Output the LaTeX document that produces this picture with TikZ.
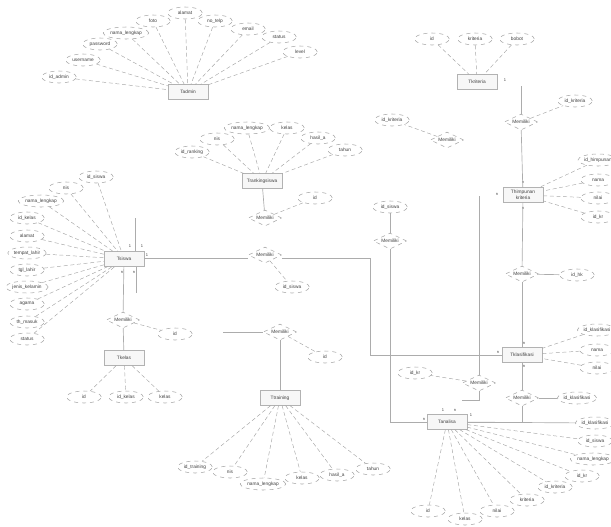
\documentclass[tikz,border=0pt]{standalone}
\usepackage{fontspec}
\setmainfont{Liberation Sans}
\usetikzlibrary{shapes.geometric}
\newcommand{\erfont}{\fontsize{3.6}{4.2}\selectfont}

\begin{document}
\begin{tikzpicture}[x=0.75pt, y=-0.75pt,
    every node/.style={font=\erfont, text=black!75},
    entity/.style={draw=gray!60, fill=gray!6, minimum width=30pt, minimum height=11pt, inner sep=1pt, align=center},
    attr/.style={ellipse, draw=gray!70, dashed, fill=white, minimum width=26pt, minimum height=9pt, inner sep=0.3pt},
    relship/.style={diamond, draw=gray!70, dashed, fill=white, aspect=2.1, minimum width=25pt, minimum height=12pt, inner sep=0.3pt},
    card/.style={font=\fontsize{3}{3.5}\selectfont, inner sep=0pt},
    link/.style={draw=gray!65, line width=0.5pt},
    attrlink/.style={draw=gray!70, densely dashed, line width=0.35pt}]
    \useasboundingbox (0,0) rectangle (611,526);

    % Tadmin
    \node[entity] (tadmin) at (188,92) {Tadmin};
    \node[attr] (idadmin) at (59,77) {id\_admin};
    \node[attr] (username) at (83,60) {username};
    \node[attr] (password) at (100,44) {password};
    \node[attr] (namaadmin) at (126,33) {nama\_lengkap};
    \node[attr] (foto) at (153,21) {foto};
    \node[attr] (alamatadmin) at (185,13) {alamat};
    \node[attr] (notelp) at (215,21) {no\_telp};
    \node[attr] (email) at (248,29) {email};
    \node[attr] (statusadmin) at (279,37) {status};
    \node[attr] (level) at (300,52) {level};

    \draw[attrlink] (idadmin) -- (tadmin);
    \draw[attrlink] (username) -- (tadmin);
    \draw[attrlink] (password) -- (tadmin);
    \draw[attrlink] (namaadmin) -- (tadmin);
    \draw[attrlink] (foto) -- (tadmin);
    \draw[attrlink] (alamatadmin) -- (tadmin);
    \draw[attrlink] (notelp) -- (tadmin);
    \draw[attrlink] (email) -- (tadmin);
    \draw[attrlink] (statusadmin) -- (tadmin);
    \draw[attrlink] (level) -- (tadmin);

    % Tkriteria
    \node[entity] (tkriteria) at (477,82) {Tkriteria};
    \node[attr] (idkrit) at (432,39) {id};
    \node[attr] (kriteria) at (475,39) {kriteria};
    \node[attr] (bobot) at (517,39) {bobot};
    \node[card] (ck1) at (505,80) {1};
    \draw[attrlink] (idkrit) -- (tkriteria);
    \draw[attrlink] (kriteria) -- (tkriteria);
    \draw[attrlink] (bobot) -- (tkriteria);

    \node[relship] (mkrit) at (521,122) {Memiliki};
    \node[attr] (idkritm) at (575,101) {id\_kriteria};
    \coordinate (krittop) at (521,86);
    \draw[link] (krittop) -- (mkrit);
    \draw[attrlink] (mkrit) -- (idkritm);

    \node[relship] (mlepas) at (447,140) {Memiliki};
    \node[attr] (idkritl) at (392,120) {id\_kriteria};
    \draw[attrlink] (mlepas) -- (idkritl);

    % Thimpunan kriteria
    \node[entity] (thimpunan) at (523,195) {Thimpunan\\kriteria};
    \node[attr] (idhimp) at (598,160) {id\_himpunan};
    \node[attr] (namahimp) at (598,180) {nama};
    \node[attr] (nilaihimp) at (598,198) {nilai};
    \node[attr] (idkrhimp) at (598,217) {id\_kr};
    \node[card] (ch1) at (523,182) {n};
    \node[card] (ch2) at (497,194) {n};
    \node[card] (ch3) at (523,208) {n};
    \draw[link] (mkrit) -- (thimpunan);
    \draw[attrlink] (idhimp) -- (thimpunan);
    \draw[attrlink] (namahimp) -- (thimpunan);
    \draw[attrlink] (nilaihimp) -- (thimpunan);
    \draw[attrlink] (idkrhimp) -- (thimpunan);

    \node[relship] (mhimp) at (522,274) {Memiliki};
    \node[attr] (idhk) at (577,275) {id\_hk};
    \draw[link] (thimpunan) -- (mhimp);
    \draw[link] (mhimp) -- (idhk);

    % Tklasifikasi
    \node[entity] (tklas) at (522,355) {Tklasifikasi};
    \node[attr] (idklas) at (597,330) {id\_klasifikasi};
    \node[attr] (namaklas) at (597,350) {nama};
    \node[attr] (nilaiklas) at (597,368) {nilai};
    \node[card] (cl1) at (524,343) {n};
    \node[card] (cl2) at (498,352) {n};
    \node[card] (cl3) at (524,366) {n};
    \draw[link] (mhimp) -- (tklas);
    \draw[attrlink] (idklas) -- (tklas);
    \draw[attrlink] (namaklas) -- (tklas);
    \draw[attrlink] (nilaiklas) -- (tklas);

    \node[relship] (mklas) at (522,398) {Memiliki};
    \node[attr] (idklasm) at (577,398) {id\_klasifikasi};
    \draw[link] (tklas) -- (mklas);
    \draw[link] (mklas) -- (idklasm);

    % Tanalisa
    \node[entity] (tanalisa) at (447,422) {Tanalisa};
    \node[attr] (an1) at (595,423) {id\_klasifikasi};
    \node[attr] (an2) at (595,441) {id\_siswa};
    \node[attr] (an3) at (593,459) {nama\_lengkap};
    \node[attr] (an4) at (582,476) {id\_kr};
    \node[attr] (an5) at (555,487) {id\_kriteria};
    \node[attr] (an6) at (527,500) {kriteria};
    \node[attr] (an7) at (497,511) {nilai};
    \node[attr] (an8) at (465,519) {kelas};
    \node[attr] (an9) at (428,511) {id};
    \node[card] (ca1) at (443,410) {1};
    \node[card] (ca2) at (455,410) {n};
    \node[card] (ca3) at (471,415) {1};
    \node[card] (ca4) at (424,419) {n};
    \draw[link] (mklas) |- (tanalisa);
    \draw[link] (tanalisa) -- (an1);
    \draw[attrlink] (tanalisa) -- (an2);
    \draw[attrlink] (tanalisa) -- (an3);
    \draw[attrlink] (tanalisa) -- (an4);
    \draw[attrlink] (tanalisa) -- (an5);
    \draw[attrlink] (tanalisa) -- (an6);
    \draw[attrlink] (tanalisa) -- (an7);
    \draw[attrlink] (tanalisa) -- (an8);
    \draw[attrlink] (tanalisa) -- (an9);

    \node[relship] (mkr) at (479,383) {Memiliki};
    \node[attr] (idkrm) at (415,373) {id\_kr};
    \coordinate (krtop) at (479,196);
    \coordinate (krend) at (462,400);
    \draw[link] (krtop) -- (mkr);
    \draw[link] (mkr) |- (krend);
    \draw[attrlink] (mkr) -- (idkrm);

    \node[relship] (msiswaan) at (390,241) {Memiliki};
    \node[attr] (idsiswaan) at (390,207) {id\_siswa};
    \draw[link] (msiswaan) -- (idsiswaan);
    \draw[link] (msiswaan) |- (tanalisa);

    % Tsiswa
    \node[entity, minimum width=30pt] (tsiswa) at (124,259) {Tsiswa};
    \node[attr] (idsiswa) at (96,177) {id\_siswa};
    \node[attr] (nis) at (66,188) {nis};
    \node[attr] (namasiswa) at (41,201) {nama\_lengkap};
    \node[attr] (idkelas) at (27,218) {id\_kelas};
    \node[attr] (alamat) at (27,236) {alamat};
    \node[attr] (tempatlahir) at (27,253) {tempat\_lahir};
    \node[attr] (tgllahir) at (27,270) {tgl\_lahir};
    \node[attr] (jk) at (27,287) {jenis\_kelamin};
    \node[attr] (agama) at (27,304) {agama};
    \node[attr] (thmasuk) at (27,322) {th\_masuk};
    \node[attr] (statussiswa) at (27,339) {status};
    \node[card] (cs1) at (130,246) {1};
    \node[card] (cs2) at (142,246) {1};
    \node[card] (cs3) at (147,255) {1};
    \node[card] (cs4) at (122,272) {n};
    \node[card] (cs5) at (134,272) {n};
    \draw[attrlink] (idsiswa) -- (tsiswa);
    \draw[attrlink] (nis) -- (tsiswa);
    \draw[attrlink] (namasiswa) -- (tsiswa);
    \draw[attrlink] (idkelas) -- (tsiswa);
    \draw[attrlink] (alamat) -- (tsiswa);
    \draw[attrlink] (tempatlahir) -- (tsiswa);
    \draw[attrlink] (tgllahir) -- (tsiswa);
    \draw[attrlink] (jk) -- (tsiswa);
    \draw[attrlink] (agama) -- (tsiswa);
    \draw[attrlink] (thmasuk) -- (tsiswa);
    \draw[attrlink] (statussiswa) -- (tsiswa);

    \coordinate (siswaup) at (135,218);
    \coordinate (siswaupend) at (135,251);
    \coordinate (siswadown) at (136,267);
    \coordinate (siswadownend) at (136,293);
    \draw[link] (siswaup) -- (siswaupend);
    \draw[link] (siswadown) -- (siswadownend);

    \node[relship] (msiswa) at (265,255) {Memiliki};
    \node[attr] (idsiswam) at (292,287) {id\_siswa};
    \coordinate (bend) at (370,258);
    \draw[link] (tsiswa.east |- bend) -- (msiswa.west |- bend);
    \draw[link] (msiswa.east |- bend) -- (bend) |- (tklas);
    \draw[attrlink] (msiswa) -- (idsiswam);

    % Tkelas
    \node[relship] (mkelas) at (123,320) {Memiliki};
    \node[attr] (idm) at (175,334) {id};
    \node[entity] (tkelas) at (124,358) {Tkelas};
    \node[attr] (idk) at (84,397) {id};
    \node[attr] (idkelask) at (126,397) {id\_kelas};
    \node[attr] (kelas) at (165,397) {kelas};
    \draw[link] (tsiswa) -- (mkelas);
    \draw[link] (mkelas) -- (tkelas);
    \draw[attrlink] (mkelas) -- (idm);
    \draw[attrlink] (tkelas) -- (idk);
    \draw[attrlink] (tkelas) -- (idkelask);
    \draw[attrlink] (tkelas) -- (kelas);

    % Trankingsiswa
    \node[entity] (trank) at (262,181) {Trankingsiswa};
    \node[attr] (idrank) at (192,152) {id\_ranking};
    \node[attr] (nisrank) at (217,139) {nis};
    \node[attr] (namarank) at (247,128) {nama\_lengkap};
    \node[attr] (kelasrank) at (287,128) {kelas};
    \node[attr] (hasilrank) at (318,138) {hasil\_a};
    \node[attr] (tahunrank) at (345,150) {tahun};
    \draw[attrlink] (idrank) -- (trank);
    \draw[attrlink] (nisrank) -- (trank);
    \draw[attrlink] (namarank) -- (trank);
    \draw[attrlink] (kelasrank) -- (trank);
    \draw[attrlink] (hasilrank) -- (trank);
    \draw[attrlink] (tahunrank) -- (trank);

    \node[relship] (mrank) at (265,218) {Memiliki};
    \node[attr] (idmrank) at (315,198) {id};
    \draw[link] (trank) -- (mrank);
    \draw[attrlink] (mrank) -- (idmrank);

    % Ttraining
    \node[relship] (mtrain) at (280,332) {Memiliki};
    \node[attr] (idmtrain) at (325,357) {id};
    \coordinate (trainleft) at (223,332);
    \node[entity] (ttrain) at (280,398) {Ttraining};
    \node[attr] (tr1) at (195,467) {id\_training};
    \node[attr] (tr2) at (230,472) {nis};
    \node[attr] (tr3) at (263,484) {nama\_lengkap};
    \node[attr] (tr4) at (302,478) {kelas};
    \node[attr] (tr5) at (337,475) {hasil\_a};
    \node[attr] (tr6) at (373,469) {tahun};
    \draw[link] (trainleft) -- (mtrain);
    \draw[link] (mtrain) -- (ttrain);
    \draw[attrlink] (mtrain) -- (idmtrain);
    \draw[attrlink] (ttrain) -- (tr1);
    \draw[attrlink] (ttrain) -- (tr2);
    \draw[attrlink] (ttrain) -- (tr3);
    \draw[attrlink] (ttrain) -- (tr4);
    \draw[attrlink] (ttrain) -- (tr5);
    \draw[attrlink] (ttrain) -- (tr6);
\end{tikzpicture}
\end{document}
